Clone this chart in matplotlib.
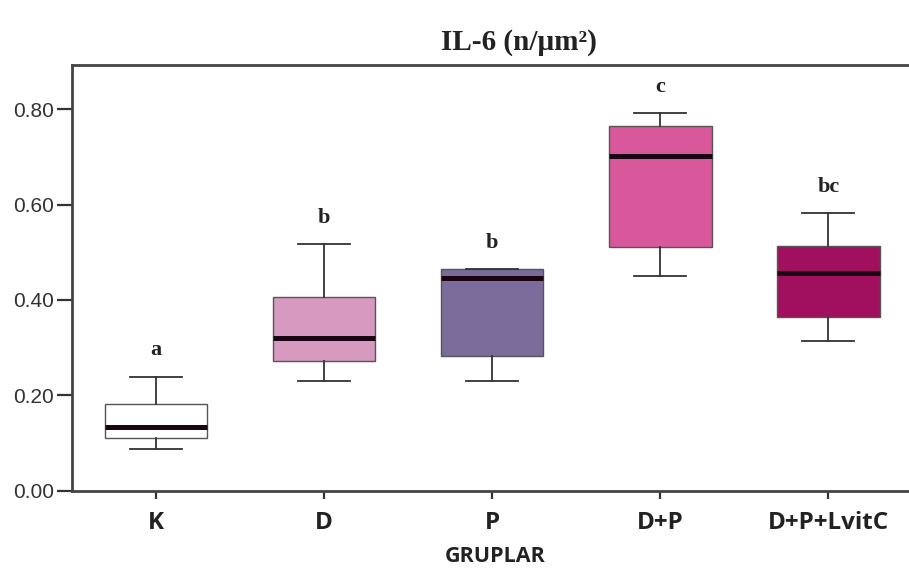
import numpy as np
import matplotlib
matplotlib.use('Agg')
from matplotlib import pyplot as plt

# groups and five-number summaries
groups = ['K', 'D', 'P', 'D+P', 'D+P+LvitC']
whisk_lo = [0.088, 0.229, 0.229, 0.450, 0.314]
q1 = [0.110, 0.272, 0.282, 0.512, 0.365]
med = [0.134, 0.321, 0.445, 0.702, 0.456]
q3 = [0.182, 0.407, 0.465, 0.766, 0.514]
whisk_hi = [0.239, 0.517, 0.465, 0.792, 0.583]
letters = ['a', 'b', 'b', 'c', 'bc']
colors = ['#ffffff', '#d699bf', '#7b6c9c', '#d9579b', '#a0105f']

stats = []
for i in range(len(groups)):
    stats.append({'whislo': whisk_lo[i], 'q1': q1[i], 'med': med[i],
                  'q3': q3[i], 'whishi': whisk_hi[i], 'fliers': [],
                  'label': groups[i]})

fig = plt.figure(figsize=(9.09, 5.72), dpi=100)
ax = fig.add_axes([72/909, 1-490.5/572, 1-72/909, (490.5-65)/572])

bp = ax.bxp(stats, positions=np.arange(len(groups)), widths=0.61,
            patch_artist=True, showfliers=False, capwidths=0.31,
            boxprops=dict(edgecolor='#555555', linewidth=1.0),
            medianprops=dict(color='#1a0612', linewidth=3.6, solid_capstyle='butt'),
            whiskerprops=dict(color='#333333', linewidth=1.3),
            capprops=dict(color='#333333', linewidth=1.3))
for patch, col in zip(bp['boxes'], colors):
    patch.set_facecolor(col)

# significance letters above each group
for i, lab in enumerate(letters):
    ax.text(i, whisk_hi[i] + 0.034, lab, ha='center', va='bottom',
            family='Liberation Serif', fontweight='bold', fontsize=16, color='#222222')

ax.set_xlim(-0.5, 4.48)
ax.set_ylim(0, 0.893)
ax.set_yticks([0.0, 0.2, 0.4, 0.6, 0.8])
ax.set_yticklabels(['0.00', '0.20', '0.40', '0.60', '0.80'],
                   family='Liberation Sans', fontsize=15, color='#333333')
ax.set_xticks(np.arange(len(groups)))
ax.set_xticklabels(groups, family='Open Sans', fontweight='bold', fontsize=17.5, color='#222222')
ax.tick_params(axis='y', length=11, width=1.6, color='#333333', pad=2)
ax.tick_params(axis='x', length=6, width=1.6, color='#333333', pad=9)

for s in ['left', 'top', 'bottom']:
    ax.spines[s].set_linewidth(2)
    ax.spines[s].set_color('#444444')
ax.spines['right'].set_visible(False)

fig.text(495/909, 1-556/572, 'GRUPLAR', ha='center', va='center',
         family='Open Sans', fontweight='bold', fontsize=15.5, color='#222222')
fig.text(519/909, 1-42/572, 'IL-6 (n/µm²)', ha='center', va='center',
         family='Liberation Serif', fontweight='bold', fontsize=21, color='#222222')

fig.savefig('out.png', dpi=100)
